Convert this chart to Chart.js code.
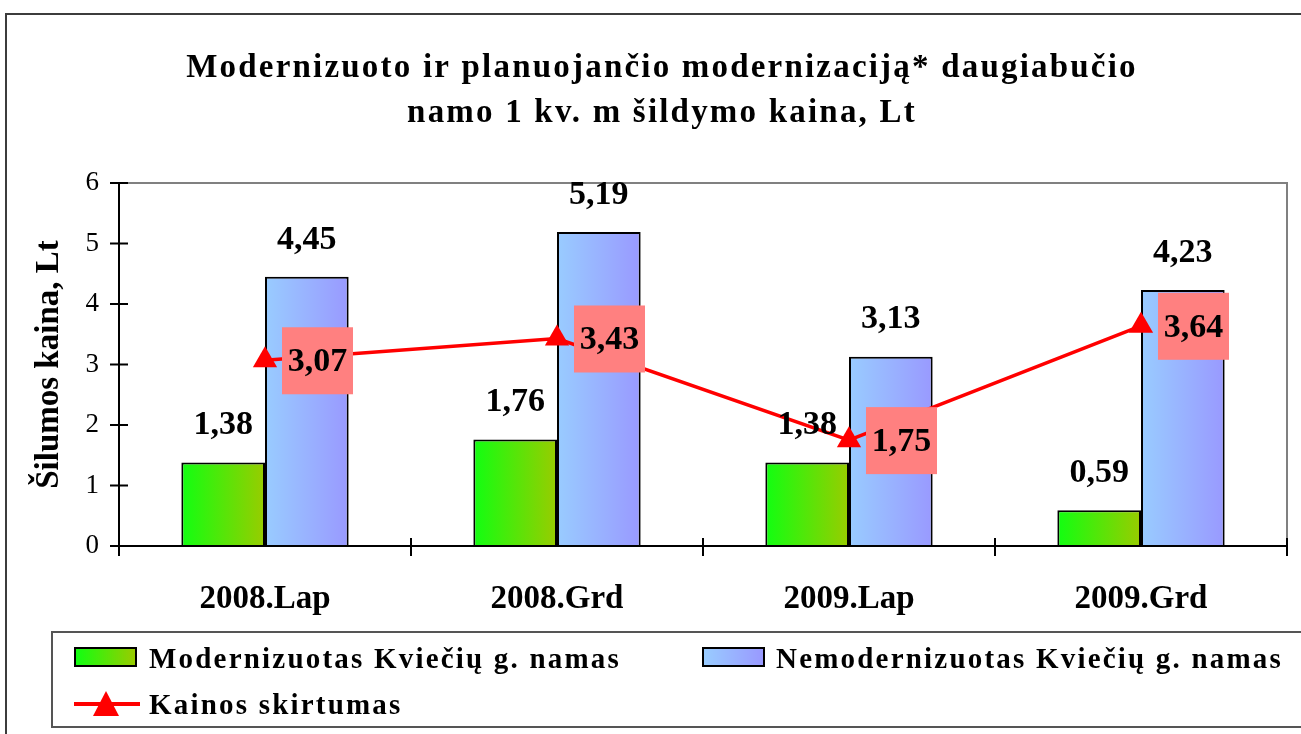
<!DOCTYPE html>
<html>
<head>
<meta charset="utf-8">
<script src="https://cdn.jsdelivr.net/npm/chart.js@4/dist/chart.umd.min.js"></script>
<style>
  body { margin: 0; background: #fff; overflow: hidden; }
  #wrap { position: relative; width: 1301px; height: 734px; overflow: hidden; }
  #frame { position: absolute; left: 5px; top: 13px; width: 1320px; height: 760px; border: 2px solid #3c3c3c; box-sizing: border-box; }
  #chart { position: absolute; left: 0; top: 0; }
  #legendBox { position: absolute; left: 51px; top: 631px; width: 1300px; height: 97px; border: 2px solid #555; box-sizing: border-box; }
  .lg { position: absolute; font: bold 29px 'Liberation Serif', 'Times New Roman', serif; letter-spacing: 2.2px; color: #000; white-space: nowrap; line-height: 34px; }
  .sw { position: absolute; width: 63px; height: 20px; border: 2px solid #000; box-sizing: border-box; }
</style>
</head>
<body>
<div id="wrap">
  <div id="frame"></div>
  <canvas id="chart" width="1301" height="734"></canvas>
  <div id="legendBox"></div>
  <div class="sw" id="sw1" style="left:74px;top:647px"></div>
  <div class="lg" id="lg1" style="left:149px;top:641px"></div>
  <div class="sw" id="sw2" style="left:702px;top:647px"></div>
  <div class="lg" id="lg2" style="left:776px;top:641px"></div>
  <svg style="position:absolute;left:74px;top:690px" width="66" height="28">
    <line x1="0" y1="14" x2="66" y2="14" stroke="#ff0000" stroke-width="4"/>
    <polygon points="32,1 45,26 19,26" fill="#ff0000"/>
  </svg>
  <div class="lg" id="lg3" style="left:149px;top:687px"></div>
</div>
<script>
// duomenys
const categories = ['2008.Lap', '2008.Grd', '2009.Lap', '2009.Grd']
const modernized = [1.38, 1.76, 1.38, 0.59]
const notModernized = [4.45, 5.19, 3.13, 4.23]
const priceDiff = [3.07, 3.43, 1.75, 3.64]
const yTicks = [0, 1, 2, 3, 4, 5, 6]
const seriesNames = ['Modernizuotas Kviečių g. namas', 'Nemodernizuotas Kviečių g. namas', 'Kainos skirtumas']
const titleLines = ['Modernizuoto ir planuojančio modernizaciją* daugiabučio', 'namo 1 kv. m šildymo kaina, Lt']

const COLORS = {
  greenFrom: '#11ff11', greenTo: '#99cc00',
  blueFrom: '#99ccff', blueTo: '#9999ff',
  line: '#ff0000',
  labelBox: '#ff8080',
  plotBorder: '#808080'
}
const FONT = "'Liberation Serif', 'Times New Roman', serif"
const CAT_PCT = 0.573

// legenda (HTML)
document.getElementById('lg1').textContent = seriesNames[0]
document.getElementById('lg2').textContent = seriesNames[1]
document.getElementById('lg3').textContent = seriesNames[2]
document.getElementById('sw1').style.background = `linear-gradient(to right, ${COLORS.greenFrom}, ${COLORS.greenTo})`
document.getElementById('sw2').style.background = `linear-gradient(to right, ${COLORS.blueFrom}, ${COLORS.blueTo})`

// horizontalus gradientas kiekvienam stulpeliui
function barGradient(from, to, side) {
  return (context) => {
    const chart = context.chart
    const x = chart.scales.x
    if (!x || context.dataIndex === undefined) return from
    const center = x.getPixelForValue(context.dataIndex)
    const bw = x.width / categories.length * CAT_PCT / 2
    if (!isFinite(center) || !isFinite(bw) || bw <= 0) return from
    const x0 = side < 0 ? center - bw : center
    const g = chart.ctx.createLinearGradient(x0, 0, x0 + bw, 0)
    g.addColorStop(0, from)
    g.addColorStop(1, to)
    return g
  }
}

const decor = {
  id: 'decor',
  beforeDatasetsDraw(chart) {
    const { ctx, chartArea: a } = chart
    ctx.save()
    // pavadinimas
    ctx.fillStyle = '#000'
    ctx.font = `bold 33px ${FONT}`
    ctx.letterSpacing = '2.2px'
    ctx.textAlign = 'center'
    ctx.textBaseline = 'middle'
    ctx.fillText(titleLines[0], 662, 68)
    ctx.fillText(titleLines[1], 662, 113)
    ctx.letterSpacing = '0px'
    // braižymo srities rėmas
    ctx.strokeStyle = COLORS.plotBorder
    ctx.lineWidth = 2
    ctx.beginPath()
    ctx.moveTo(a.left, a.top)
    ctx.lineTo(a.right, a.top)
    ctx.lineTo(a.right, a.bottom)
    ctx.stroke()
    ctx.restore()
  },
  afterDatasetsDraw(chart) {
    const { ctx, chartArea: a, scales } = chart
    ctx.save()
    // ašys ir padalos
    ctx.strokeStyle = '#000'
    ctx.lineWidth = 2
    ctx.beginPath()
    ctx.moveTo(a.left, a.top)
    ctx.lineTo(a.left, a.bottom)
    ctx.lineTo(a.right, a.bottom)
    yTicks.forEach(v => {
      const y = scales.y.getPixelForValue(v)
      ctx.moveTo(a.left - 9, y)
      ctx.lineTo(a.left + 9, y)
    })
    const cw = a.width / categories.length
    for (let i = 0; i <= categories.length; i++) {
      const x = a.left + i * cw
      ctx.moveTo(x, a.bottom - 8)
      ctx.lineTo(x, a.bottom + 10)
    }
    ctx.stroke()

    // stulpelių reikšmės
    ctx.fillStyle = '#000'
    ctx.font = `bold 34px ${FONT}`
    ctx.textAlign = 'center'
    ctx.textBaseline = 'middle'
    ;[0, 1].forEach(di => {
      const meta = chart.getDatasetMeta(di)
      meta.data.forEach((bar, i) => {
        const v = chart.data.datasets[di].data[i]
        ctx.fillText(v.toFixed(2).replace('.', ','), bar.x, bar.y - 37)
      })
    })

    // skirtumo žymos
    const lm = chart.getDatasetMeta(2)
    lm.data.forEach((pt, i) => {
      const bx = pt.x + 17
      const by = pt.y - 33
      ctx.fillStyle = COLORS.labelBox
      ctx.fillRect(bx, by, 71, 67)
      ctx.fillStyle = '#000'
      ctx.fillText(priceDiff[i].toFixed(2).replace('.', ','), bx + 35.5, by + 35)
    })
    ctx.restore()
  }
}

new Chart(document.getElementById('chart'), {
  type: 'bar',
  data: {
    labels: categories,
    datasets: [
      {
        label: seriesNames[0],
        data: modernized,
        backgroundColor: barGradient(COLORS.greenFrom, COLORS.greenTo, -1),
        borderColor: '#000',
        borderWidth: 2,
        borderSkipped: 'bottom',
        barPercentage: 1,
        categoryPercentage: CAT_PCT,
        order: 2
      },
      {
        label: seriesNames[1],
        data: notModernized,
        backgroundColor: barGradient(COLORS.blueFrom, COLORS.blueTo, 1),
        borderColor: '#000',
        borderWidth: 2,
        borderSkipped: 'bottom',
        barPercentage: 1,
        categoryPercentage: CAT_PCT,
        order: 2
      },
      {
        type: 'line',
        label: seriesNames[2],
        data: priceDiff,
        borderColor: COLORS.line,
        borderWidth: 3.5,
        backgroundColor: COLORS.line,
        pointStyle: 'triangle',
        pointRadius: 14,
        pointBorderWidth: 0,
        pointBackgroundColor: COLORS.line,
        tension: 0,
        order: 0
      }
    ]
  },
  options: {
    responsive: false,
    animation: false,
    events: [],
    layout: { padding: { top: 183, right: 10, bottom: 118, left: 0 } },
    plugins: {
      legend: { display: false },
      title: { display: false },
      tooltip: { enabled: false }
    },
    scales: {
      x: {
        grid: { display: false, drawTicks: false },
        border: { display: false },
        ticks: { color: '#000', font: { family: FONT, size: 33, weight: 'bold' }, padding: 34 },
        afterFit(scale) { scale.height = 70 }
      },
      y: {
        min: 0,
        max: 6,
        grid: { display: false, drawTicks: false },
        border: { display: false },
        afterBuildTicks(scale) { scale.ticks = yTicks.map(v => ({ value: v })) },
        ticks: { color: '#000', font: { family: FONT, size: 27 }, padding: 20 },
        title: {
          display: true,
          text: 'Šilumos kaina, Lt',
          color: '#000',
          font: { family: FONT, size: 33, weight: 'bold' },
          padding: { top: 30 }
        },
        afterFit(scale) { scale.width = 119 }
      }
    }
  },
  plugins: [decor]
})
</script>
</body>
</html>
